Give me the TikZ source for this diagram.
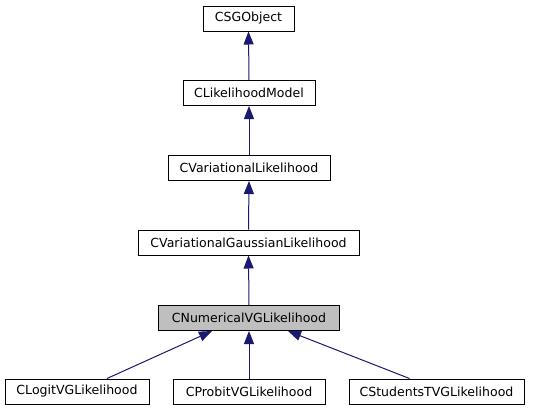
\documentclass[tikz,border=0pt]{standalone}
\usepackage{fontspec}
\setmainfont{DejaVu Sans}
\usetikzlibrary{arrows.meta}
\definecolor{edgeblue}{RGB}{25,25,112}
\definecolor{curgray}{RGB}{191,191,191}
\begin{document}
\begin{tikzpicture}[x=0.75pt,y=-0.75pt,
  cls/.style={draw=black,line width=0.75pt,fill=white,inner sep=0pt,minimum height=18.75pt,font=\fontsize{9.4pt}{11pt}\selectfont},
  cur/.style={cls,fill=curgray},
  inh/.style={draw=edgeblue,line width=0.75pt,-{Triangle[length=9.75pt,width=7.5pt]}}]
\useasboundingbox (0,0) rectangle (533,411);
\node[cls,minimum width=68.25pt] (csg) at (248.5,18.5) {CSGObject};
\node[cls,minimum width=99pt] (lm) at (249,93) {CLikelihoodModel};
\node[cls,minimum width=121.5pt] (vl) at (249,168) {CVariationalLikelihood};
\node[cls,minimum width=165.75pt] (vgl) at (248.5,242.5) {CVariationalGaussianLikelihood};
\node[cur,minimum width=135.75pt] (num) at (249,318) {CNumericalVGLikelihood};
\node[cls,minimum width=108pt] (logit) at (77,391.5) {CLogitVGLikelihood};
\node[cls,minimum width=114pt] (probit) at (249,391.5) {CProbitVGLikelihood};
\node[cls,minimum width=131.25pt] (stud) at (436.5,391.5) {CStudentsTVGLikelihood};
\draw[inh] (lm.north) -- (csg.south);
\draw[inh] (vl.north) -- (lm.south);
\draw[inh] (vgl.north) -- (vl.south);
\draw[inh] (num.north) -- (vgl.south);
\draw[inh] ([xshift=22.5pt]logit.north) -- ([xshift=-27.75pt]num.south);
\draw[inh] (probit.north) -- (num.south);
\draw[inh] ([xshift=-20.25pt]stud.north) -- ([xshift=29.25pt]num.south);
\end{tikzpicture}
\end{document}
